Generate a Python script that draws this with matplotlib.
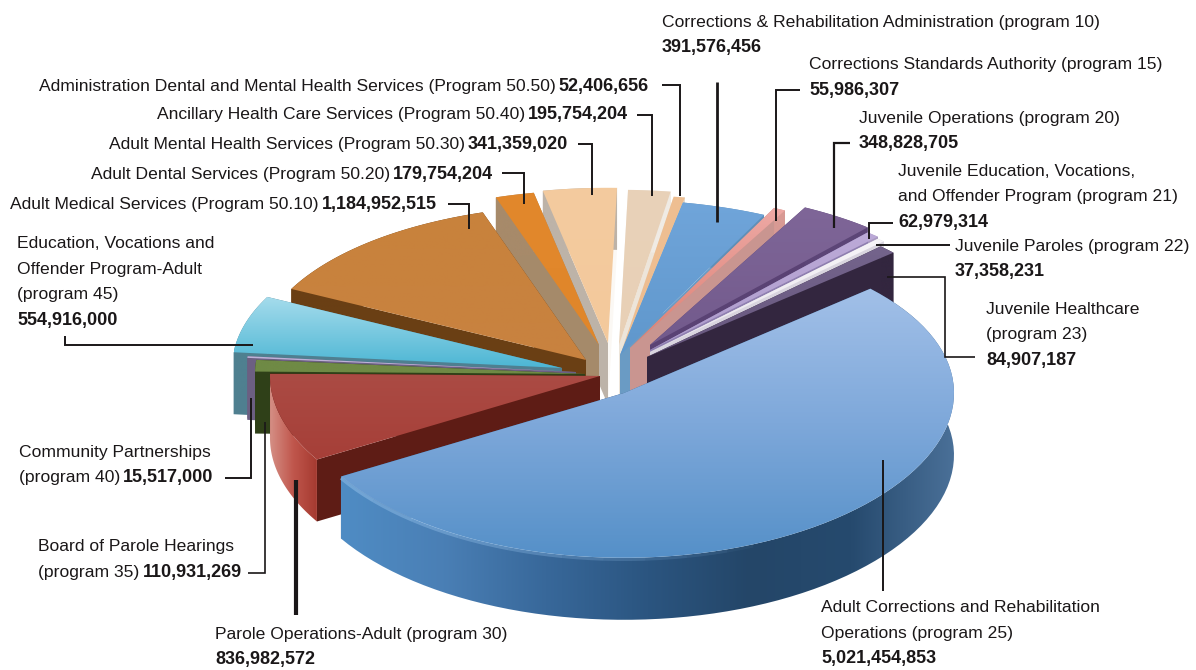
import numpy as np
import matplotlib
matplotlib.use("Agg")
import matplotlib.pyplot as plt
from matplotlib.colors import to_rgb
from matplotlib.patches import Polygon

programs = ["Corrections & Rehabilitation Administration (program 10)",
            "Corrections Standards Authority (program 15)",
            "Juvenile Operations (program 20)",
            "Juvenile Education, Vocations,\nand Offender Program (program 21)",
            "Juvenile Paroles (program 22)",
            "Juvenile Healthcare\n(program 23)",
            "Adult Corrections and Rehabilitation\nOperations (program 25)",
            "Parole Operations-Adult (program 30)",
            "Board of Parole Hearings\n(program 35)",
            "Community Partnerships\n(program 40)",
            "Education, Vocations and\nOffender Program-Adult\n(program 45)",
            "Adult Medical Services (Program 50.10)",
            "Adult Dental Services (Program 50.20)",
            "Adult Mental Health Services (Program 50.30)",
            "Ancillary Health Care Services (Program 50.40)",
            "Administration Dental and Mental Health Services (Program 50.50)"]
values = [391576456, 55986307, 348828705, 62979314, 37358231, 84907187,
          5021454853, 836982572, 110931269, 15517000, 554916000,
          1184952515, 179754204, 341359020, 195754204, 52406656]

# pixel offset of each slice from the pie centre (explode)
center = (600, 370)
explode = [(20, -15), (30, -22), (50, -25), (50, -20), (50, -18), (47, -13),
           (24, 23), (0, 6), (-15, 4), (-24, 2), (-38, -2),
           (-14, -10), (-1, -25), (8, -27), (19, -25), (22, -20)]
rx, ry, persp, depth = 330, 160, 0.03, 62
start_angle = 79

tops = [['#70a5da', '#5f97cc'], ['#eda9a5', '#dd7f72'], ['#7f6698', '#725a8c'],
        ['#bcaad8', '#ae9ccc'], ['#f7f5f8', '#e8e4ec'], ['#74648c', '#68587e'],
        ['#a2c0e8', '#7ea8da', '#5590c8'], ['#ab4b44', '#a63f38'], ['#6f8a45', '#6f8a45'],
        ['#bdb2d8', '#bdb2d8'], ['#a6dcec', '#4cb6d4'], ['#c8823c', '#c98240'],
        ['#e2882c', '#e0862a'], ['#f4cb9f', '#f3c99c'], ['#e9d2b9', '#e8d0b6'], ['#efbf92', '#eebd90']]
walls = [['#5f8fb8'], ['#d89a94'], ['#5c4577'], ['#a899c0'], ['#d9d5df'], ['#33263f'],
         ['#4f8cc4', '#4a7fb5', '#38689a', '#2b5580', '#244668', '#264a6e', '#4a7098'],
         ['#d58f85', '#c0564c', '#a53a30'], ['#2f4018'], ['#6c5f82'], ['#4f8090'], ['#6a3f14'],
         ['#a78a6a'], ['#bdb3a8'], ['#f0ebe4'], ['#e6dccd']]
faces_hi = ['#6a9bc4', '#c99590', '#5a4274', '#8f7fb0', '#d9d5df', '#33263f', '#35628f', '#5e1c15',
            '#2f4018', '#6c5f82', '#4f7f90', '#6a3f14', '#a58a6a', '#bdb3a8', '#f3efe9', '#e6dccd']
faces_lo = ['#6a9bc4', '#c99590', '#5a4274', '#8f7fb0', '#d9d5df', '#33263f', '#2f4f78', '#5e1c15',
            '#2f4018', '#6c5f82', '#4f7f90', '#6a3f14', '#a58a6a', '#fbf8f4', '#ede5da', '#e6dccd']

# leader lines in picture pixels, per slice
leaders = [[(717, 82), (717, 222)],
           [(800, 90), (776, 90), (776, 221)],
           [(850, 143), (834, 143), (834, 228)],
           [(893, 223), (869, 223), (869, 239)],
           [(950, 245), (876, 245)],
           [(887, 277), (945, 277), (945, 357), (975, 357)],
           [(883, 460), (883, 591)],
           [(296, 480), (296, 615)],
           [(248, 573), (265, 573), (265, 422)],
           [(225, 478), (251, 478), (251, 398)],
           [(65, 336), (65, 345), (253, 345)],
           [(448, 204), (469, 204), (469, 229)],
           [(502, 173), (524, 173), (524, 204)],
           [(578, 144), (592, 144), (592, 195)],
           [(637, 115), (652, 115), (652, 196)],
           [(662, 85), (680, 85), (680, 196)]]
leader_widths = [2, 1.4, 1.6, 1.4, 1.4, 1.2, 1.4, 3, 1.2, 1.4, 1.4, 1.4, 1.4, 1.4, 1.4, 1.4]

label_pos = [(662, 22), (809, 65), (859, 118), (898, 171), (955, 246), (986, 309), (821, 608),
             (215, 634), (38, 547), (19, 452), (17, 244), (10, 205), (91, 175), (109, 145),
             (157, 115), (39, 86)]
inline_value = {8, 9, 11, 12, 13, 14, 15}
line_step = 25.5

plt.rcParams['font.family'] = ['Liberation Sans', 'DejaVu Sans']
fsize = 12.6
bold_size = 13

fig = plt.figure(figsize=(11.96, 6.70), dpi=100)
ax = fig.add_axes([0, 0, 1, 1])
ax.axis('off')


def ramp(stops, n=256):
    cols = np.array([to_rgb(c) for c in stops])
    if len(cols) == 1:
        cols = np.vstack([cols, cols])
    pos = np.linspace(0, 1, len(cols))
    t = np.linspace(0, 1, n)
    return np.stack([np.interp(t, pos, cols[:, k]) for k in range(3)], axis=1)


def fill(pts, stops, vertical, z):
    pts = np.asarray(pts)
    x0, y0 = pts.min(axis=0)
    x1, y1 = pts.max(axis=0)
    img = ramp(stops)[:, None, :] if vertical else ramp(stops)[None, :, :]
    im = ax.imshow(img, extent=(x0, x1, y1, y0), aspect='auto', zorder=z, interpolation='bilinear')
    im.set_clip_path(Polygon(pts, closed=True, transform=ax.transData))


def arc(a, t):
    v = np.sin(t)
    return np.column_stack([a[0] + rx * np.cos(t), a[1] - ry * v * (1 - persp * v)])


sweep = np.array(values) / sum(values) * 2 * np.pi
ends = np.deg2rad(start_angle) - np.cumsum(sweep)
starts = ends + sweep
mids = (starts + ends) / 2
order = np.argsort(-np.sin(mids))

z = 2
for i in order:
    apex = (center[0] + explode[i][0], center[1] + explode[i][1])
    t = np.linspace(starts[i], ends[i], 80)
    rim = arc(apex, t)
    down = np.array([0, depth])
    a = np.array([apex])
    ax.fill(*np.vstack([a, rim[:1], rim[:1] + down, a + down]).T, color=faces_hi[i], zorder=z, lw=0)
    ax.fill(*np.vstack([a, rim[-1:], rim[-1:] + down, a + down]).T, color=faces_lo[i], zorder=z, lw=0)
    fill(np.vstack([rim, (rim + down)[::-1]]), walls[i], False, z + 0.1)
    fill(np.vstack([a, rim]), tops[i], True, z + 0.2)
    if i == 6:
        # soft lit edge on the front left of the big slice, fading out to the right
        lit = rim[rim[:, 0] < 760][::-1]
        chunks = np.array_split(np.arange(len(lit)), 10)
        for k, c in enumerate(chunks):
            c = np.append(c, min(c[-1] + 1, len(lit) - 1))
            fade = 1 - k / len(chunks)
            ax.plot(lit[c, 0], lit[c, 1] + 1.5, color='#8fbce6', lw=2.5, alpha=0.55 * fade,
                    zorder=z + 0.3, solid_capstyle='butt')
    z += 1

for pts, w in zip(leaders, leader_widths):
    xs, ys = zip(*pts)
    ax.plot(xs, ys, color='#1a1718', lw=w, zorder=50, solid_joinstyle='miter', solid_capstyle='butt')

ax.set_xlim(0, 1196)
ax.set_ylim(670, 0)
fig.canvas.draw()
rend = fig.canvas.get_renderer()
inv = ax.transData.inverted()
for i, name in enumerate(programs):
    x, y = label_pos[i]
    lines = name.split('\n')
    for j, line in enumerate(lines):
        t = ax.text(x, y + j * line_step, line, fontsize=fsize, color='#1a1718', va='center', zorder=60)
    val = f"{values[i]:,}"
    if i in inline_value:
        end = inv.transform(t.get_window_extent(rend).get_points())[1][0]
        ax.text(end + 3, y + (len(lines) - 1) * line_step, val, fontsize=bold_size, fontweight='bold',
                color='#1a1718', va='center', zorder=60)
    else:
        ax.text(x, y + len(lines) * line_step, val, fontsize=bold_size, fontweight='bold',
                color='#1a1718', va='center', zorder=60)

fig.savefig('out.png', dpi=100)
